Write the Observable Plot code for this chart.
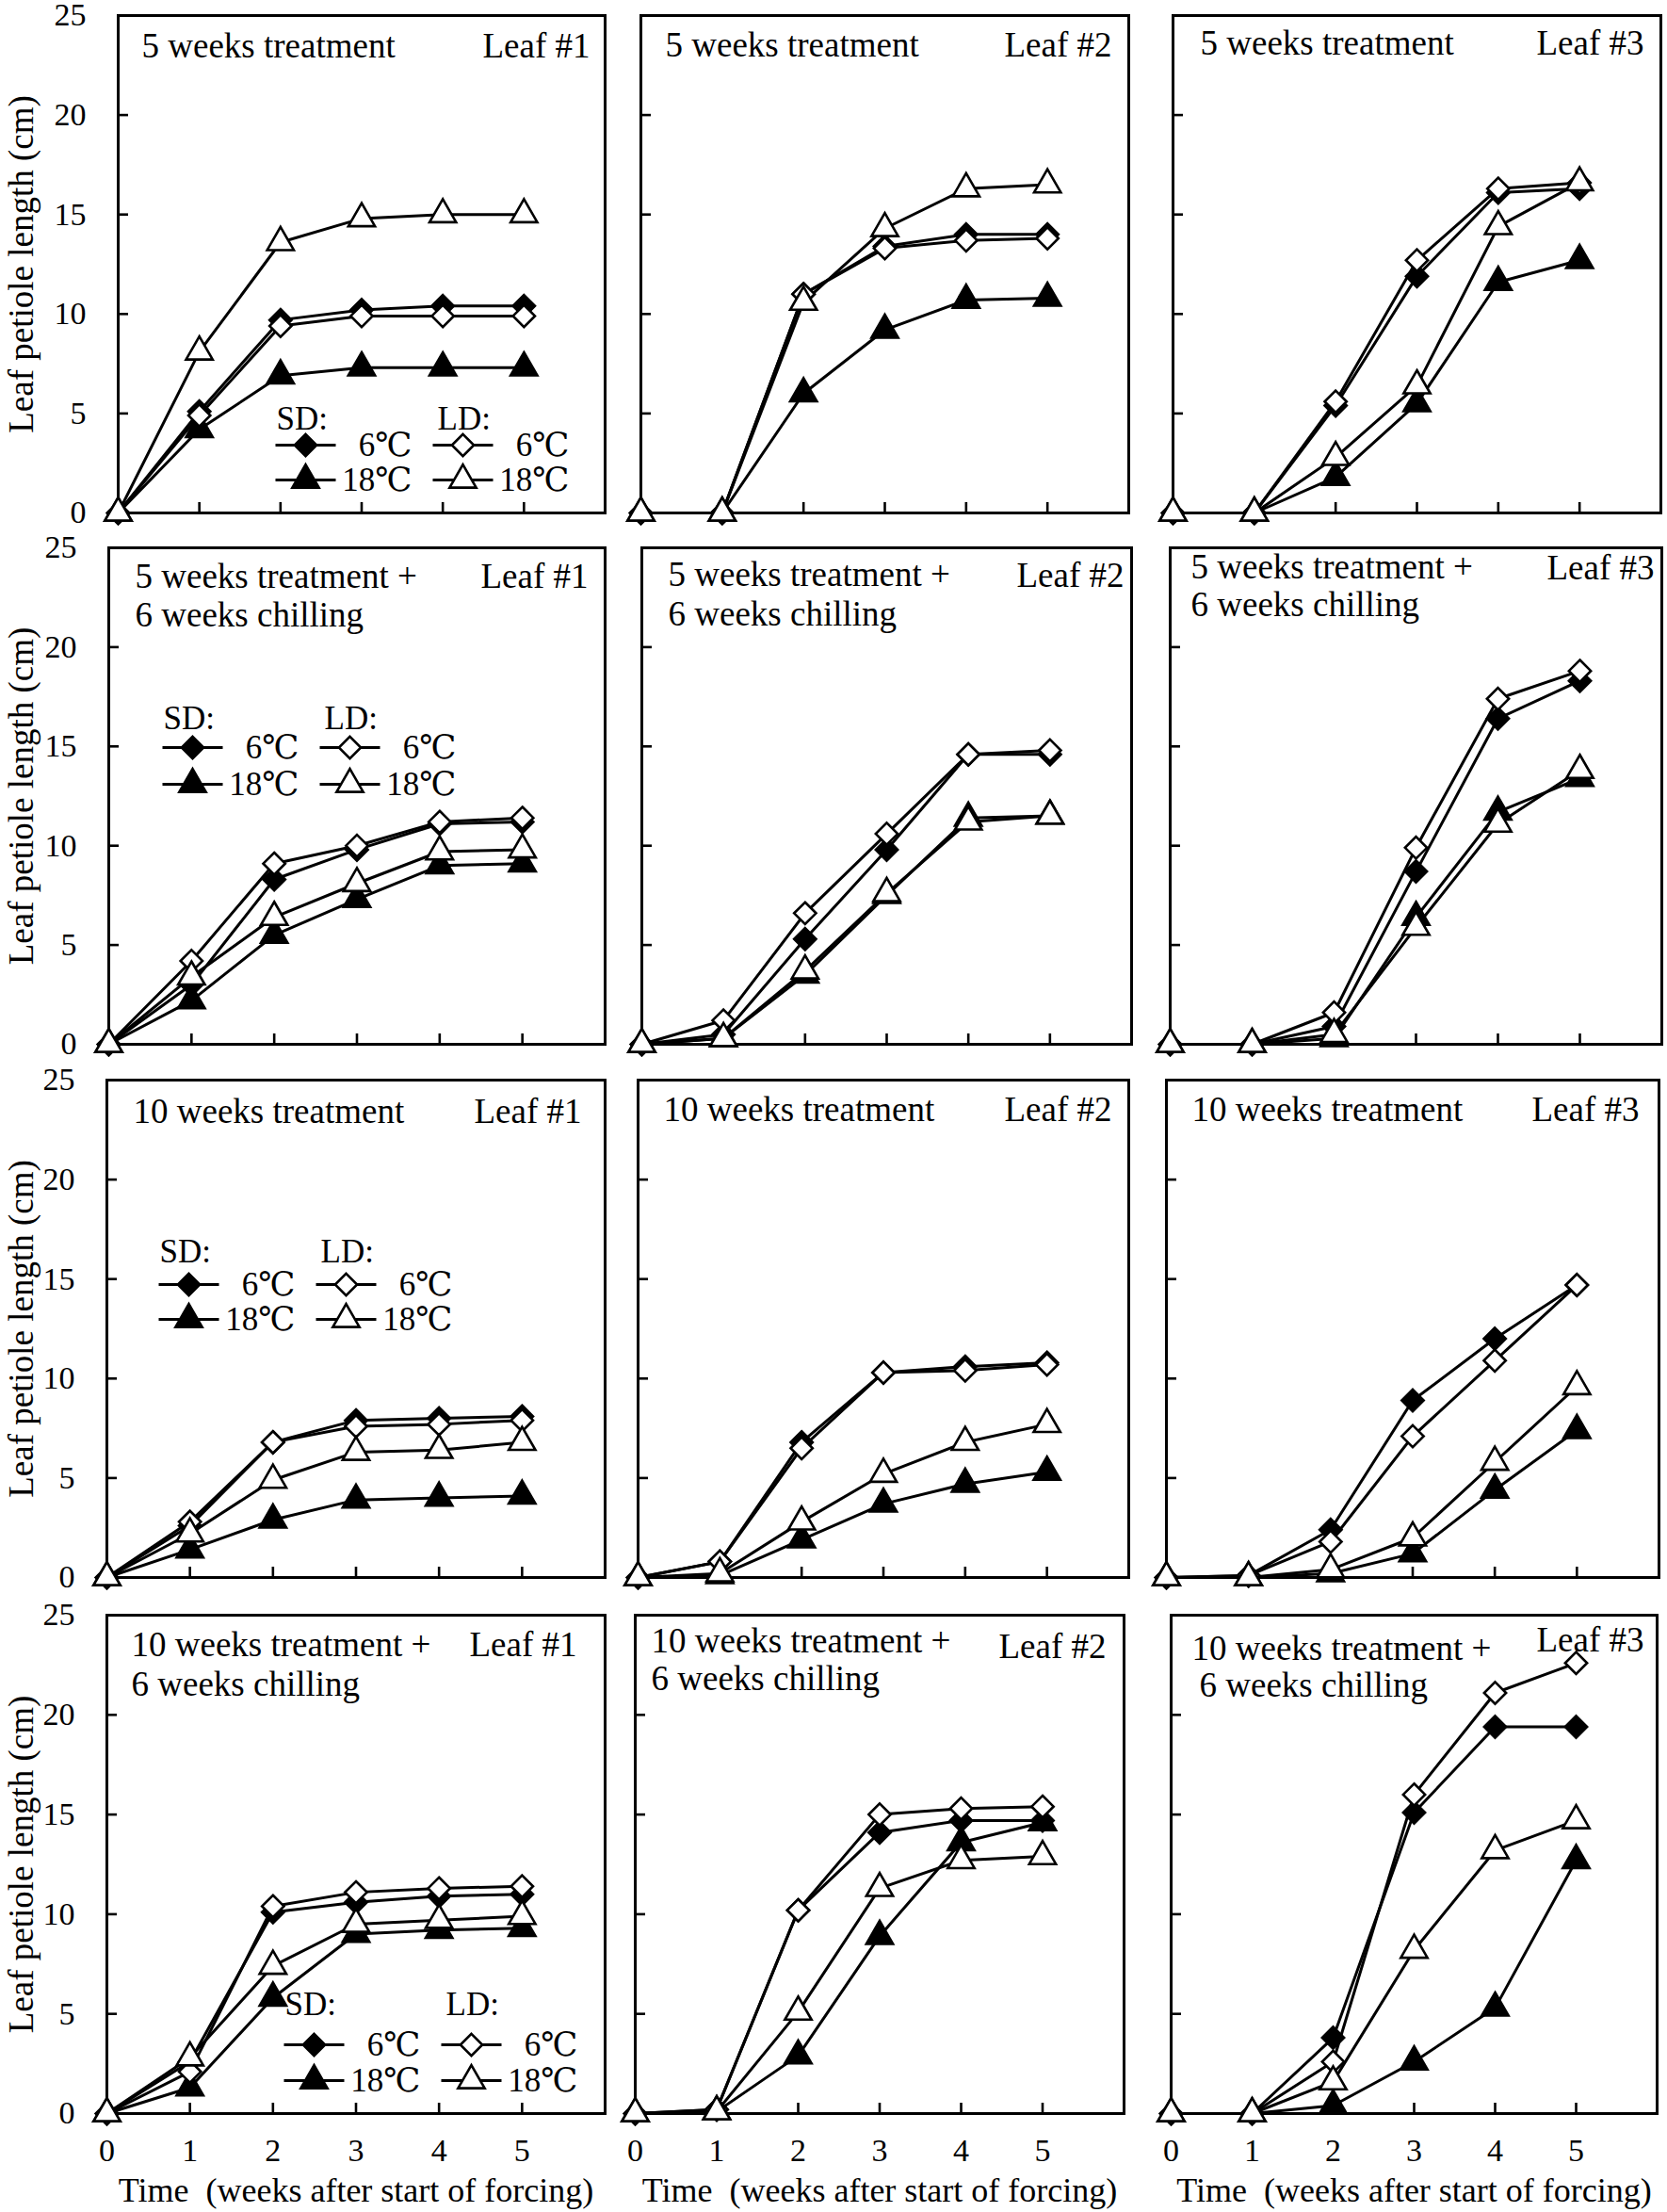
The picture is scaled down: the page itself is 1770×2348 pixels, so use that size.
<!DOCTYPE html>
<html><head><meta charset="utf-8">
<script src="https://cdn.jsdelivr.net/npm/d3@7"></script>
<script src="https://cdn.jsdelivr.net/npm/@observablehq/plot@0.6"></script>
<style>
html,body{margin:0;padding:0;background:#fff;}
#root{position:relative;width:1770px;height:2348px;overflow:hidden;background:#fff;}
#root svg{position:absolute;}
</style></head><body><div id="root"></div>
<script>
// ---------- data ----------
const weeks = [0, 1, 2, 3, 4, 5];
const seriesNames = ["SD 6℃", "SD 18℃", "LD 6℃", "LD 18℃"];
const treatments = [
  ["5 weeks treatment"],
  ["5 weeks treatment +", "6 weeks chilling"],
  ["10 weeks treatment"],
  ["10 weeks treatment +", "6 weeks chilling"]
];
const leaves = ["Leaf #1", "Leaf #2", "Leaf #3"];
const yTicks = [0, 5, 10, 15, 20, 25];
const xTicks = [0, 1, 2, 3, 4, 5];
const yLabel = "Leaf petiole length (cm)";
const xLabel = "Time\u00a0 (weeks after start of forcing)";
const legendHeads = ["SD:", "LD:"];
const legendTemps = ["6℃", "18℃"];

// rows of each array: SD 6℃, SD 18℃, LD 6℃, LD 18℃
const w5_leaf1 = [[0,5.1,9.7,10.2,10.4,10.4],[0,4.2,6.9,7.3,7.3,7.3],[0,4.9,9.4,9.9,9.9,9.9],[0,8.1,13.6,14.8,15.0,15.0]];
const w5_leaf2 = [[0,0,11.0,13.4,14.0,14.0],[0,0,6.0,9.2,10.7,10.8],[0,0,11.0,13.3,13.7,13.8],[0,0,10.6,14.3,16.3,16.5]];
const w5_leaf3 = [[0,0,5.4,11.9,16.1,16.3],[0,0,1.8,5.5,11.6,12.7],[0,0,5.6,12.7,16.3,16.6],[0,0,2.8,6.4,14.4,16.6]];
const w5c_leaf1 = [[0,3.0,8.3,9.8,11.1,11.2],[0,2.2,5.5,7.3,9.0,9.1],[0,4.2,9.1,10.0,11.2,11.4],[0,3.4,6.4,8.1,9.7,9.8]];
const w5c_leaf2 = [[0,0.5,5.3,9.8,14.6,14.6],[0,0.3,3.5,7.5,11.4,11.5],[0,1.2,6.6,10.6,14.6,14.8],[0,0.3,3.7,7.6,11.2,11.5]];
const w5c_leaf3 = [[0,0,0.9,8.7,16.4,18.3],[0,0,0.3,6.4,11.7,13.4],[0,0,1.6,9.9,17.4,18.8],[0,0,0.5,5.9,11.1,13.8]];
const w10_leaf1 = [[0,2.6,6.8,7.9,8.0,8.1],[0,1.4,2.9,3.9,4.0,4.1],[0,2.8,6.8,7.6,7.7,7.9],[0,2.2,4.9,6.3,6.4,6.8]];
const w10_leaf2 = [[0,0.8,6.8,10.3,10.6,10.8],[0,0.1,1.9,3.7,4.7,5.3],[0,0.8,6.5,10.3,10.4,10.7],[0,0.2,2.8,5.2,6.8,7.7]];
const w10_leaf3 = [[0,0.1,2.4,8.9,12.0,14.7],[0,0,0.2,1.2,4.4,7.4],[0,0.1,1.8,7.1,10.9,14.7],[0,0,0.4,2.0,5.8,9.6]];
const w10c_leaf1 = [[0,2.6,10.1,10.6,10.9,11.0],[0,1.3,5.8,9.0,9.2,9.3],[0,2.1,10.4,11.1,11.3,11.4],[0,2.8,7.4,9.5,9.7,9.9]];
const w10c_leaf2 = [[0,0.2,10.2,14.1,14.7,14.7],[0,0.1,2.9,8.9,13.6,14.6],[0,0.2,10.2,15.0,15.3,15.4],[0,0.1,5.1,11.3,12.7,12.9]];
const w10c_leaf3 = [[0,0,3.8,15.1,19.4,19.4],[0,0,0.4,2.6,5.3,12.7],[0,0,2.6,16.0,21.1,22.6],[0,0,1.6,8.2,13.2,14.7]];

const panelValues = [
  [w5_leaf1, w5_leaf2, w5_leaf3],
  [w5c_leaf1, w5c_leaf2, w5c_leaf3],
  [w10_leaf1, w10_leaf2, w10_leaf3],
  [w10c_leaf1, w10c_leaf2, w10c_leaf3]
];

// ---------- layout (pixels) ----------
const frameTop = [16, 581, 1146, 1714];
const frameBottom = [544, 1108, 1674, 2243];
const frameLeft = [[125,680,1245],[115,681,1242],[113,677,1238],[113,674,1243]];
const frameRight = [[642,1198,1763],[642,1201,1764],[642,1198,1761],[642,1193,1759]];
const titlePos = [
  [{dx:25,dy:44,lr:16,ly:44},{dx:26,dy:43,lr:18,ly:43},{dx:29,dy:41,lr:18,ly:41}],
  [{dx:28,dy:42,dy2:83,lr:18,ly:42},{dx:28,dy:40,dy2:82,lr:8,ly:41},{dx:22,dy:32,dy2:72,lr:8,ly:33}],
  [{dx:28,dy:45,lr:25,ly:45},{dx:27,dy:43,lr:18,ly:43},{dx:27,dy:43,lr:21,ly:43}],
  [{dx:26,dy:43,dy2:85,lr:30,ly:43},{dx:17,dy:39,dy2:79,lr:19,ly:45},{dx:22,dy:47,dy2:86,dx2:30,lr:14,ly:38}]
];
const legendPos = [
  {dx:199, hy:439, r1:456, r2:493},
  {dx:89, hy:192, r1:212, r2:251},
  {dx:87, hy:193, r1:217, r2:254},
  {dx:220, hy:424, r1:456, r2:494}
];
const FONT = "'Liberation Serif', 'Times New Roman', 'DejaVu Serif', serif";
const symbolOf = ["diamond2", "triangle", "diamond2", "triangle"];
const fillOf = ["black", "black", "white", "white"];
const rOf = [10.5, 10.5, 10.5, 10.5];
const hline = {draw(ctx) { ctx.moveTo(-32, 0); ctx.lineTo(32, 0); }};

const root = document.getElementById("root");

function panel(r, c) {
  const L = frameLeft[r][c], R = frameRight[r][c], T = frameTop[r], B = frameBottom[r];
  const W = R - L, H = B - T;
  const mL = c === 0 ? L : 45, mR = 30, mT = 16, mB = r === 3 ? 2348 - B : 25;
  const vals = panelValues[r][c];
  const rows = [];
  seriesNames.forEach((s, k) => weeks.forEach((w, i) => rows.push({series: s, k, week: w, value: vals[k][i]})));

  const marks = [
    Plot.frame({stroke: "black", strokeWidth: 3}),
    Plot.tickY(yTicks.slice(1, -1), {y: d => d, stroke: "black", strokeWidth: 2.6, insetRight: W - 11}),
    Plot.tickX(xTicks.slice(1), {x: d => d, stroke: "black", strokeWidth: 2.6, insetTop: H - 11}),
    Plot.line(rows, {x: "week", y: "value", z: "series", stroke: "black", strokeWidth: 3})
  ];
  seriesNames.forEach((s, k) => {
    marks.push(Plot.dot(rows.filter(d => d.k === k), {x: "week", y: "value", symbol: symbolOf[k], r: rOf[k], fill: fillOf[k], stroke: "black", strokeWidth: 2.6}));
  });

  // panel annotations
  const tp = titlePos[r][c];
  const tl = treatments[r];
  marks.push(Plot.text([tl[0]], {text: d => d, frameAnchor: "top-left", dx: tp.dx, dy: tp.dy, textAnchor: "start", lineAnchor: "bottom", fontSize: 37}));
  if (tl[1]) marks.push(Plot.text([tl[1]], {text: d => d, frameAnchor: "top-left", dx: tp.dx2 ?? tp.dx, dy: tp.dy2, textAnchor: "start", lineAnchor: "bottom", fontSize: 37}));
  marks.push(Plot.text([leaves[c]], {text: d => d, frameAnchor: "top-right", dx: -tp.lr, dy: tp.ly, textAnchor: "end", lineAnchor: "bottom", fontSize: 37}));

  if (c === 0) {
    marks.push(Plot.text(yTicks, {y: d => d, text: d => String(d), frameAnchor: "left", dx: -34, textAnchor: "end", lineAnchor: "middle", fontSize: 34}));
    marks.push(Plot.text([yLabel], {text: d => d, frameAnchor: "left", dx: 23 - L, rotate: -90, textAnchor: "middle", lineAnchor: "middle", fontSize: 37}));
    // legend
    const lg = legendPos[r];
    const colX = [lg.dx, lg.dx + 167];
    const rowY = [lg.r1, lg.r2];
    colX.forEach((cx, j) => {
      marks.push(Plot.text([legendHeads[j]], {text: d => d, frameAnchor: "top-left", dx: cx - (j ? 27 : 31), dy: lg.hy, textAnchor: "start", lineAnchor: "bottom", fontSize: 35}));
      rowY.forEach((ry, t) => {
        const k = j * 2 + t;
        marks.push(Plot.dot([0], {frameAnchor: "top-left", dx: cx, dy: ry, symbol: hline, fill: "none", stroke: "black", strokeWidth: 3}));
        marks.push(Plot.dot([0], {frameAnchor: "top-left", dx: cx, dy: ry, symbol: symbolOf[k], r: rOf[k], fill: fillOf[k], stroke: "black", strokeWidth: 2.6}));
        marks.push(Plot.text([legendTemps[t]], {text: d => d, frameAnchor: "top-left", dx: cx + 113, dy: ry + 11, textAnchor: "end", lineAnchor: "bottom", fontSize: 35}));
      });
    });
  }
  if (r === 3) {
    marks.push(Plot.text(xTicks, {x: d => d, text: d => String(d), frameAnchor: "bottom", dy: 26, lineAnchor: "top", fontSize: 34}));
    marks.push(Plot.text([xLabel], {text: d => d, frameAnchor: "bottom", dy: 93, lineAnchor: "bottom", textAnchor: "middle", fontSize: 36}));
  }

  const svg = Plot.plot({
    width: mL + W + mR,
    height: mT + H + mB,
    marginLeft: mL, marginRight: mR, marginTop: mT, marginBottom: mB,
    x: {domain: [0, 6], axis: null},
    y: {domain: [0, 25], axis: null},
    style: {background: "transparent", fontFamily: FONT, color: "black", overflow: "visible"},
    marks
  });
  svg.style.left = (L - mL) + "px";
  svg.style.top = (T - mT) + "px";
  svg.style.maxWidth = "none";
  root.appendChild(svg);
}

for (let r = 0; r < 4; r++) for (let c = 0; c < 3; c++) panel(r, c);
</script>
</body></html>
